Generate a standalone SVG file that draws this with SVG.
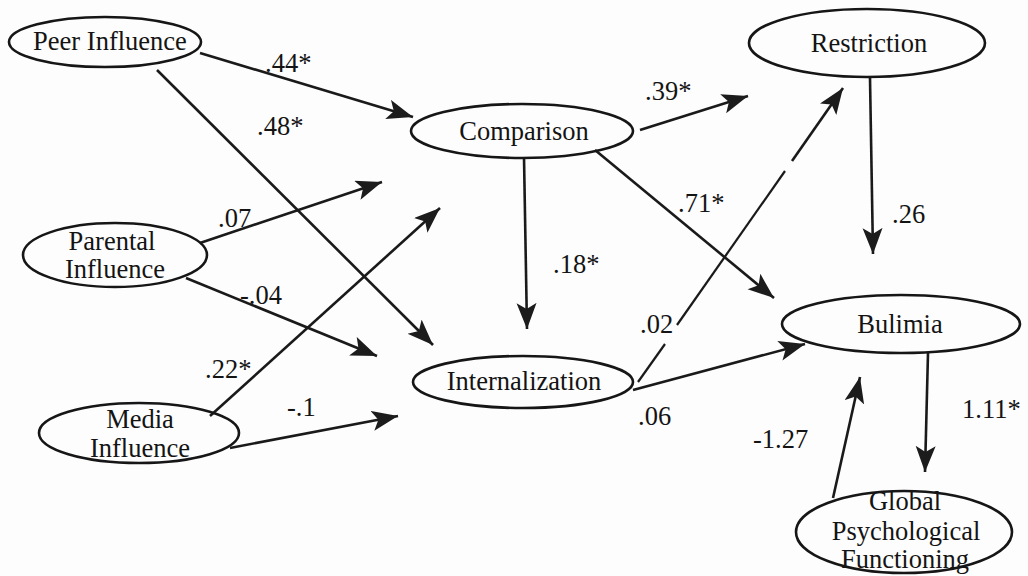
<svg xmlns="http://www.w3.org/2000/svg" width="1028" height="576" viewBox="0 0 1028 576">
<style>
.node ellipse{fill:none;stroke:#161616;stroke-width:2.6}
text{font-family:"Liberation Serif","Times New Roman",serif;font-size:26.5px;fill:#141414}
.nt{text-anchor:middle}
.edge{stroke:#1a1a1a;stroke-width:2.6;fill:none;marker-end:url(#ah)}
.plain{stroke:#1a1a1a;stroke-width:2.2;fill:none}
</style>
<defs>
<marker id="ah" markerUnits="userSpaceOnUse" markerWidth="28" markerHeight="22" refX="26" refY="10" orient="auto">
<path d="M0,0 L26,10 L0,20 L6,10 Z" fill="#1c1c1c"/>
</marker>
</defs>
<rect width="1028" height="576" fill="#fdfdfd"/>

<g id="connectors">
<line class="edge" x1="200" y1="53" x2="413" y2="117"/>
<line class="edge" x1="157" y1="70" x2="433" y2="345"/>
<line class="edge" x1="200" y1="243" x2="382" y2="182"/>
<line class="edge" x1="186" y1="278" x2="377" y2="356"/>
<line class="edge" x1="210" y1="416" x2="440" y2="208"/>
<line class="edge" x1="230" y1="448" x2="398" y2="416"/>
<line class="edge" x1="640" y1="130" x2="748" y2="96"/>
<line class="edge" x1="524" y1="157" x2="527" y2="329"/>
<line class="edge" x1="595" y1="150" x2="774" y2="298"/>
<line class="plain" x1="638" y1="382" x2="665" y2="344"/>
<line class="plain" x1="677" y1="325" x2="785" y2="171"/>
<line class="edge" x1="792" y1="161" x2="843" y2="88"/>
<line class="edge" x1="633" y1="390" x2="805" y2="344"/>
<line class="edge" x1="870" y1="78" x2="873" y2="254"/>
<line class="edge" x1="928" y1="353" x2="925" y2="472"/>
<line class="edge" x1="833" y1="498" x2="860" y2="377"/>
<text x="265" y="72">.44*</text>
<text x="257" y="135">.48*</text>
<text x="218" y="227">.07</text>
<text x="240" y="304">-.04</text>
<text x="205" y="378">.22*</text>
<text x="287" y="416">-.1</text>
<text x="645" y="100">.39*</text>
<text x="553" y="273">.18*</text>
<text x="678" y="212">.71*</text>
<text x="892" y="223">.26</text>
<text x="640" y="333">.02</text>
<text x="638" y="425">.06</text>
<text x="753" y="448">-1.27</text>
<text x="962" y="418">1.11*</text>
</g>

<g id="peer" class="node">
<ellipse cx="105" cy="42" rx="96" ry="25"/>
<text class="nt" x="110" y="50">Peer Influence</text>
</g>
<g id="parental" class="node">
<ellipse cx="115" cy="255" rx="92" ry="32"/>
<text class="nt" x="112" y="250">Parental</text>
<text class="nt" x="115" y="278">Influence</text>
</g>
<g id="media" class="node">
<ellipse cx="139" cy="433" rx="100" ry="30"/>
<text class="nt" x="140" y="428">Media</text>
<text class="nt" x="140" y="457">Influence</text>
</g>
<g id="comparison" class="node">
<ellipse cx="522" cy="131" rx="111" ry="27"/>
<text class="nt" x="524" y="140">Comparison</text>
</g>
<g id="internalization" class="node">
<ellipse cx="523" cy="382" rx="110" ry="26"/>
<text class="nt" x="524" y="390">Internalization</text>
</g>
<g id="restriction" class="node">
<ellipse cx="867" cy="43" rx="118" ry="34"/>
<text class="nt" x="869" y="52">Restriction</text>
</g>
<g id="bulimia" class="node">
<ellipse cx="901" cy="324" rx="119" ry="29"/>
<text class="nt" x="900" y="333">Bulimia</text>
</g>
<g id="global" class="node">
<ellipse cx="904" cy="532" rx="108" ry="41"/>
<text class="nt" x="905" y="510">Global</text>
<text class="nt" x="906" y="540">Psychological</text>
<text class="nt" x="905" y="568">Functioning</text>
</g>
</svg>
